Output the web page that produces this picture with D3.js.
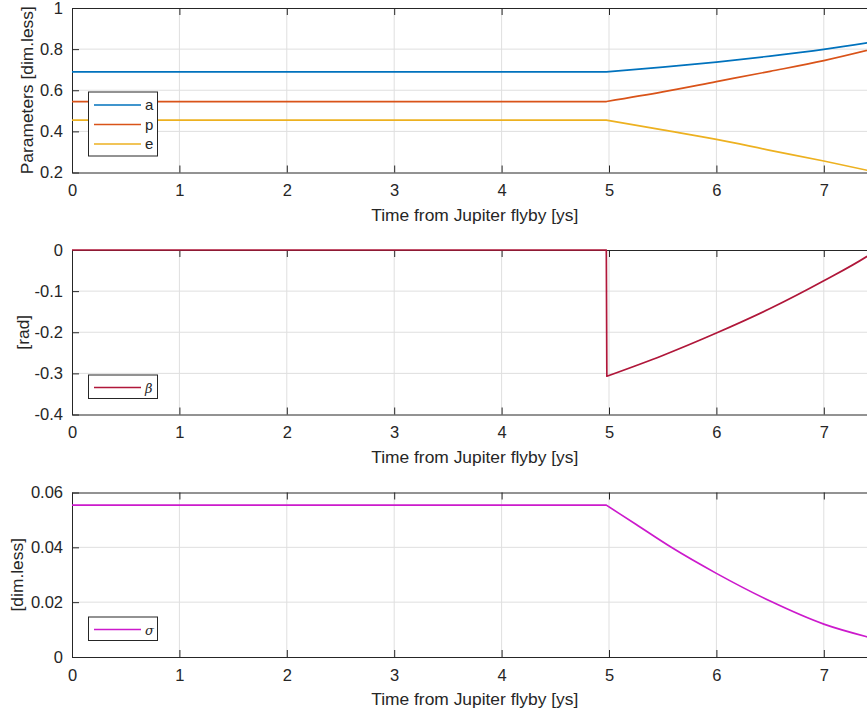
<!DOCTYPE html>
<html>
<head>
<meta charset="utf-8">
<script src="https://cdn.jsdelivr.net/npm/d3@7"></script>
<style>
  body { margin: 0; background: #fff; }
  text { font-family: "Liberation Sans", Arial, sans-serif; fill: #262626; }
</style>
</head>
<body>
<svg id="fig" width="867" height="713"></svg>
<script>
// data
const xTicks = [0, 1, 2, 3, 4, 5, 6, 7]

const tOrbit = [0, 4.975, 5.5, 6, 6.5, 7, 7.5]
const aVals = [0.689, 0.689, 0.712, 0.737, 0.766, 0.799, 0.839]
const pVals = [0.545, 0.545, 0.592, 0.642, 0.692, 0.744, 0.806]
const eVals = [0.455, 0.455, 0.407, 0.361, 0.308, 0.256, 0.200]

const tBeta = [0, 4.975, 4.98, 5.5, 6, 6.5, 7, 7.4, 7.5]
const betaVals = [0, 0, -0.307, -0.2565, -0.202, -0.1425, -0.075, -0.016, 0.001]

const tSigma = [0, 4.975, 5.25, 5.58, 6, 6.5, 7, 7.4, 7.5]
const sigmaVals = [0.0554, 0.0554, 0.0484, 0.0400, 0.0305, 0.0204, 0.0120, 0.0074, 0.0064]

const yTicks1 = [0.2, 0.4, 0.6, 0.8, 1], yTicks2 = [-0.4, -0.3, -0.2, -0.1, 0], yTicks3 = [0, 0.02, 0.04, 0.06]

const svg = d3.select('#fig')
const left = 72, right = 877.5, h = 164.5
const x = d3.scaleLinear().domain([0, 7.5]).range([left, right])

function panel(top, yDomain, yTicks, fmt, yLabel, yLabelX, series, legendBox) {
    const y = d3.scaleLinear().domain(yDomain).range([top + h, top])
    const g = svg.append('g')
    const id = 'clip' + Math.round(top)
    g.append('clipPath').attr('id', id).append('rect')
        .attr('x', left).attr('y', top - 3).attr('width', right - left).attr('height', h + 6)

    // grid
    g.selectAll('.gx').data(xTicks.slice(1)).join('line')
        .attr('x1', d => x(d)).attr('x2', d => x(d)).attr('y1', top).attr('y2', top + h)
        .attr('stroke', '#dfdfdf')
    g.selectAll('.gy').data(yTicks.slice(1, -1)).join('line')
        .attr('y1', d => y(d)).attr('y2', d => y(d)).attr('x1', left).attr('x2', right)
        .attr('stroke', '#dfdfdf')

    // axes
    const xa = g.append('g').attr('transform', `translate(0,${top + h})`)
        .call(d3.axisBottom(x).tickValues(xTicks).tickSizeInner(-7).tickSizeOuter(0).tickPadding(12))
    const xt = g.append('g').attr('transform', `translate(0,${top})`)
        .call(d3.axisTop(x).tickValues(xTicks).tickSizeInner(-7).tickSizeOuter(0).tickFormat(''))
    const ya = g.append('g').attr('transform', `translate(${left},0)`)
        .call(d3.axisLeft(y).tickValues(yTicks).tickFormat(fmt).tickSizeInner(-7).tickSizeOuter(0).tickPadding(9))
    ;[xa, xt, ya].forEach(a => {
        a.select('.domain').attr('stroke', '#262626')
        a.selectAll('.tick line').attr('stroke', '#262626')
        a.selectAll('text').attr('font-size', 16.5).attr('fill', '#262626')
            .style('font-family', '"Liberation Sans", Arial, sans-serif')
    })

    // series: flat part straight, after the change a smooth curve
    series.forEach(s => {
        const pts = s.t.map((t, i) => [t, s.v[i]])
        const k = s.k
        const flat = d3.line().x(d => x(d[0])).y(d => y(d[1]))
        const curve = d3.line().curve(d3.curveMonotoneX).x(d => x(d[0])).y(d => y(d[1]))
        g.append('path').attr('clip-path', `url(#${id})`)
            .attr('fill', 'none').attr('stroke', s.color).attr('stroke-width', 1.7)
            .attr('stroke-linejoin', 'round')
            .attr('d', flat(pts.slice(0, k + 1)) + curve(pts.slice(k)).replace(/^M/, 'L'))
    })

    g.append('text').attr('x', (left + right) / 2).attr('y', top + h + 48)
        .attr('text-anchor', 'middle').attr('font-size', 17.4)
        .text('Time from Jupiter flyby [ys]')
    g.append('text').attr('transform', `translate(${yLabelX},${top + h / 2}) rotate(-90)`)
        .attr('text-anchor', 'middle').attr('font-size', 17.4).text(yLabel)

    // legend
    const lb = g.append('g')
    lb.append('rect').attr('x', 88.5).attr('y', legendBox).attr('width', 69)
        .attr('height', series.length === 1 ? 23.5 : 64)
        .attr('fill', '#fff').attr('stroke', '#262626')
    series.forEach((s, i) => {
        const cy = series.length === 1 ? legendBox + 12.5 : legendBox + 13 + i * 19.5
        lb.append('line').attr('x1', 94).attr('x2', 141).attr('y1', cy).attr('y2', cy)
            .attr('stroke', s.color).attr('stroke-width', 1.7)
        const tx = lb.append('text').attr('x', 145).attr('y', cy + 5).attr('font-size', 15).text(s.name)
        if (s.greek) tx.style('font-family', '"DejaVu Serif", "Liberation Serif", serif')
            .attr('font-style', 'italic').attr('fill', '#808080').attr('font-size', 13)
    })
}

panel(8, [0.2, 1], yTicks1, d => d === 1 ? '1' : d3.format('.1f')(d),
    'Parameters [dim.less]', 33, [
        { name: 'a', t: tOrbit, v: aVals, k: 1, color: '#0072BD' },
        { name: 'p', t: tOrbit, v: pVals, k: 1, color: '#D95319' },
        { name: 'e', t: tOrbit, v: eVals, k: 1, color: '#EDB120' }
    ], 92)

panel(250, [-0.4, 0], yTicks2, d => d === 0 ? '0' : d3.format('.1f')(d).replace('−', '-'),
    '[rad]', 29, [
        { name: 'β', t: tBeta, v: betaVals, k: 2, color: '#B0173A', greek: true }
    ], 375)

panel(492.5, [0, 0.06], yTicks3, d => d === 0 ? '0' : d3.format('.2f')(d),
    '[dim.less]', 23, [
        { name: 'σ', t: tSigma, v: sigmaVals, k: 1, color: '#CC1ACC', greek: true }
    ], 617)
</script>
</body>
</html>
